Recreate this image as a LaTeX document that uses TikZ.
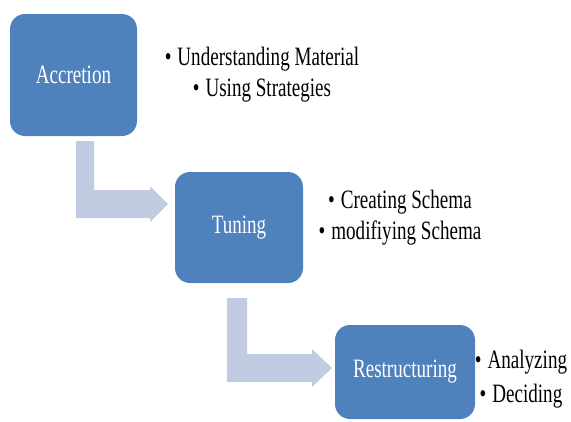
\documentclass[tikz,border=0pt]{standalone}
\usepackage{fontspec}
\setmainfont{Liberation Serif}[FakeStretch=0.72]
\usetikzlibrary{positioning}
\definecolor{stageblue}{RGB}{79,129,189}
\definecolor{flowgrey}{RGB}{193,203,225}
\tikzset{
  stage/.style={fill=stageblue, rounded corners=15pt, text=white, inner sep=0pt,
    font=\fontsize{26.5}{31}\selectfont},
  point/.style={anchor=base, inner sep=0pt, font=\fontsize{26.5}{31}\selectfont},
  flow/.style={fill=flowgrey}
}
\newcommand{\pt}[1]{\textbullet\hspace{6pt}#1}
\begin{document}
\begin{tikzpicture}[x=1pt,y=-1pt]
\useasboundingbox (0,0) rectangle (571,421);
% bent arrows from one stage to the next
\fill[flow] (76,141) -- (94,141) -- (94,190) -- (150,190) -- (150,186) -- (168,204)
  -- (150,222) -- (150,218) -- (76,218) -- cycle;
\fill[flow] (227,298) -- (247,298) -- (247,354) -- (312,354) -- (312,349) -- (332,368)
  -- (312,387) -- (312,382) -- (227,382) -- cycle;
% stages
\node[stage, minimum width=127pt, minimum height=122pt] (accretion) at (73.5,75) {Accretion};
\node[stage, minimum width=128pt, minimum height=111pt] (tuning) at (239,227.5) {Tuning};
\node[stage, minimum width=140pt, minimum height=94pt] (restructuring) at (405,372) {Restructuring};
% points for each stage
\node[point] (understanding) at (262,65) {\pt{Understanding Material}};
\node[point] (strategies) at (262,96) {\pt{Using Strategies}};
\node[point] (creating) at (400,208) {\pt{Creating Schema}};
\node[point] (modifying) at (400,239) {\pt{modifiying Schema}};
\node[point] (analyzing) at (521,368) {\pt{Analyzing}};
\node[point] (deciding) at (521,402) {\pt{Deciding}};
\end{tikzpicture}
\end{document}
